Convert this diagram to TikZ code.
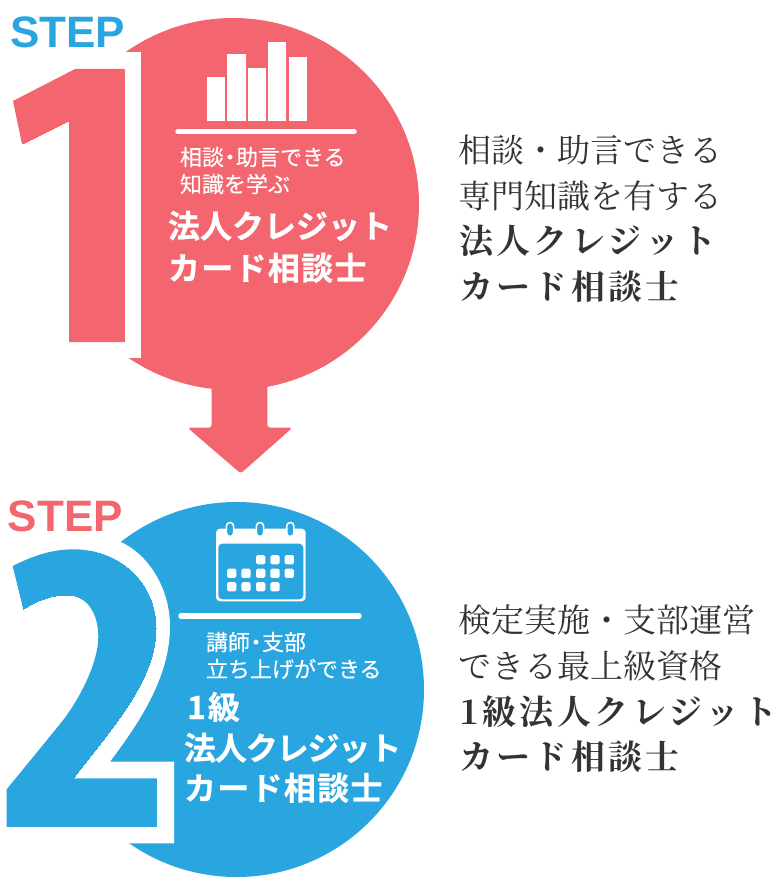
\documentclass[tikz,border=0pt]{standalone}
\usepackage{graphicx}
\usepackage{fontspec}
\setmainfont{Open Sans}
\newfontfamily\jpsanssmall[FakeBold=0.25]{Noto Sans CJK JP}
\newfontfamily\jpsansbig[FakeBold=0.6]{Noto Sans CJK JP Bold}
\newfontfamily\jpsansbigsp[FakeBold=0.6,LetterSpace=4]{Noto Sans CJK JP Bold}
\newfontfamily\jpsansbigti[FakeBold=0.6,LetterSpace=-3.5]{Noto Sans CJK JP Bold}
\newfontfamily\jpserif{Noto Serif CJK JP}
\newfontfamily\jpserifsp[LetterSpace=10]{Noto Serif CJK JP Bold}
\newfontfamily\stepfont{Liberation Sans Bold}
\newfontfamily\digitfont{Open Sans Bold}
\definecolor{redc}{HTML}{F3666F}
\definecolor{bluec}{HTML}{29A5DF}
\definecolor{inkc}{HTML}{333333}
\tikzset{
  disc/.style={circle,inner sep=0pt,minimum size=#1},
  txt/.style={anchor=base west,inner sep=0pt,outer sep=0pt},
  small/.style={txt,white,font=\jpsanssmall\fontsize{22}{22}\selectfont},
  big/.style={txt,white,font=\jpsansbig\fontsize{32}{32}\selectfont},
  bigsp/.style={txt,white,font=\jpsansbigsp\fontsize{32}{32}\selectfont},
  bigti/.style={txt,white,font=\jpsansbigti\fontsize{32}{32}\selectfont},
  steplabel/.style={txt,font=\stepfont\fontsize{44}{44}\selectfont},
  digit/.style={txt,font=\digitfont\fontsize{382}{382}\selectfont},
  rtext/.style={txt,inkc,font=\jpserif\fontsize{33}{33}\selectfont},
  rbold/.style={txt,inkc,font=\jpserifsp\fontsize{34}{34}\selectfont},
  hrule/.style={draw=white,line width=5.5pt,line cap=round},
  bar/.style={fill=white},
  cell/.style={fill=white,rounded corners=1.5pt},
  ring/.style={draw=white,fill=bluec,line width=1.6pt,rounded corners=3.5pt},
}
\begin{document}
\begin{tikzpicture}[x=1pt,y=-1pt]
\useasboundingbox (0,0) rectangle (780,896);
% step 1
\node[disc=372pt,fill=redc] (c1) at (233,204) {};
\fill[redc,rounded corners=3pt] (211.7,380) -- (211.7,427.7) -- (187.5,427.7) -- (240.7,473.5) -- (292.5,427.7) -- (267.3,427.7) -- (267.3,380) -- cycle;
\fill[white] (0,52) rectangle (141,358);
\fill[redc] (75,69) -- (124,69) -- (124,342) -- (69,342) -- (69,121) -- (22,144) -- (13,101) -- cycle;
\begin{scope}
  \clip (75,69) -- (124,69) -- (124,342) -- (69,342) -- (69,121) -- (22,144) -- (13,101) -- cycle;
  \node[digit,redc] (d1) at (-6,342) {\scalebox{.84}[1]{1}};
\end{scope}
\node[steplabel,bluec] (s1) at (10,47.7) {STEP};
\foreach \a/\b/\t in {207/225/77.3,227.3/245.7/54.3,247.7/266/68,268.3/286.3/41.7,288.7/306.7/57.3}
  \fill[bar] (\a,\t) rectangle (\b,121);
\coordinate (r1a) at (178,131.7); \coordinate (r1b) at (354,131.7);
\draw[hrule] (r1a) -- (r1b);
\node[small] (t1a) at (180,165.4) {相談\hspace{-5pt}・\hspace{-5pt}助言できる};
\node[small] (t1b) at (180,192.4) {知識を学ぶ};
\node[big] (t1c) at (168,238) {法人クレジット};
\node[bigsp] (t1d) at (168,280) {カード相談士};
% step 2
\node[disc=375pt,fill=bluec] (c2) at (236.5,689.5) {};
\fill[white] (0,541.7) -- (120,541.7) .. controls (145,552) and (170,585) .. (170,626.7) .. controls (170,680) and (135,728) .. (110,761.7) -- (174,761.7) -- (174,843.3) -- (0,843.3) -- cycle;
\def\twopath{(12.7,566) .. controls (30,557.3) and (50,549.3) .. (73.3,549.3) .. controls (120,549.3) and (156,583) .. (156,628.3) .. controls (156,680) and (113,726.7) .. (73.3,778.3) -- (156.7,778.3) -- (156.7,826.7) -- (6.7,826.7) -- (6.7,789.3) -- (63.3,720) .. controls (83.3,693) and (98.3,660) .. (98.3,636.7) .. controls (98.3,613) and (86.7,595) .. (66.7,595) .. controls (48.3,595) and (33.3,603) .. (23.3,609.3) -- cycle}
\fill[bluec] \twopath;
\begin{scope}
  \clip \twopath;
  \node[digit,bluec] (d2) at (-10,827) {2};
\end{scope}
\node[steplabel,redc] (s2) at (8,531.7) {STEP};
% calendar
\fill[white,rounded corners=4pt] (216,528.7) rectangle (305.7,601.3);
\fill[bluec,rounded corners=4pt] (218.3,543.7) rectangle (303.3,599.3);
\foreach \x in {230,260,290.3}
  \draw[ring] (\x-3.6,522.5) rectangle (\x+3.6,536.5);
\foreach \x/\y in {260.7/559.7,275/559.7,289.3/559.7,
  231.7/573.3,246/573.3,260.7/573.3,275/573.3,289.3/573.3,
  231.7/586.7,246/586.7,260.7/586.7,275/586.7}
  \fill[cell] (\x-4.6,\y-4.6) rectangle (\x+4.6,\y+4.6);
\coordinate (r2a) at (181,616); \coordinate (r2b) at (359,616);
\draw[hrule] (r2a) -- (r2b);
\node[small] (t2a) at (206,650.4) {講師\hspace{-5pt}・\hspace{-5pt}支部};
\node[small] (t2b) at (206,677.4) {立ち上げができる};
\node[big] (t2c) at (187,719) {1\hspace{2pt}級};
\node[bigti] (t2d) at (184,760) {法人クレジット};
\node[bigsp] (t2e) at (184,800) {カード相談士};
% right texts
\node[rtext] (a1) at (458,162.5) {相談・助言できる};
\node[rtext] (a2) at (458,208.5) {専門知識を有する};
\node[rbold] (a3) at (459,253) {法人クレジット};
\node[rbold] (a4) at (459,299) {カード相談士};
\node[rtext] (b1) at (458,632.5) {検定実施・支部運営};
\node[rtext] (b2) at (458,678.5) {できる最上級資格};
\node[rbold] (b3) at (459,724) {1級法人クレジット};
\node[rbold] (b4) at (459,769.5) {カード相談士};
\end{tikzpicture}
\end{document}
